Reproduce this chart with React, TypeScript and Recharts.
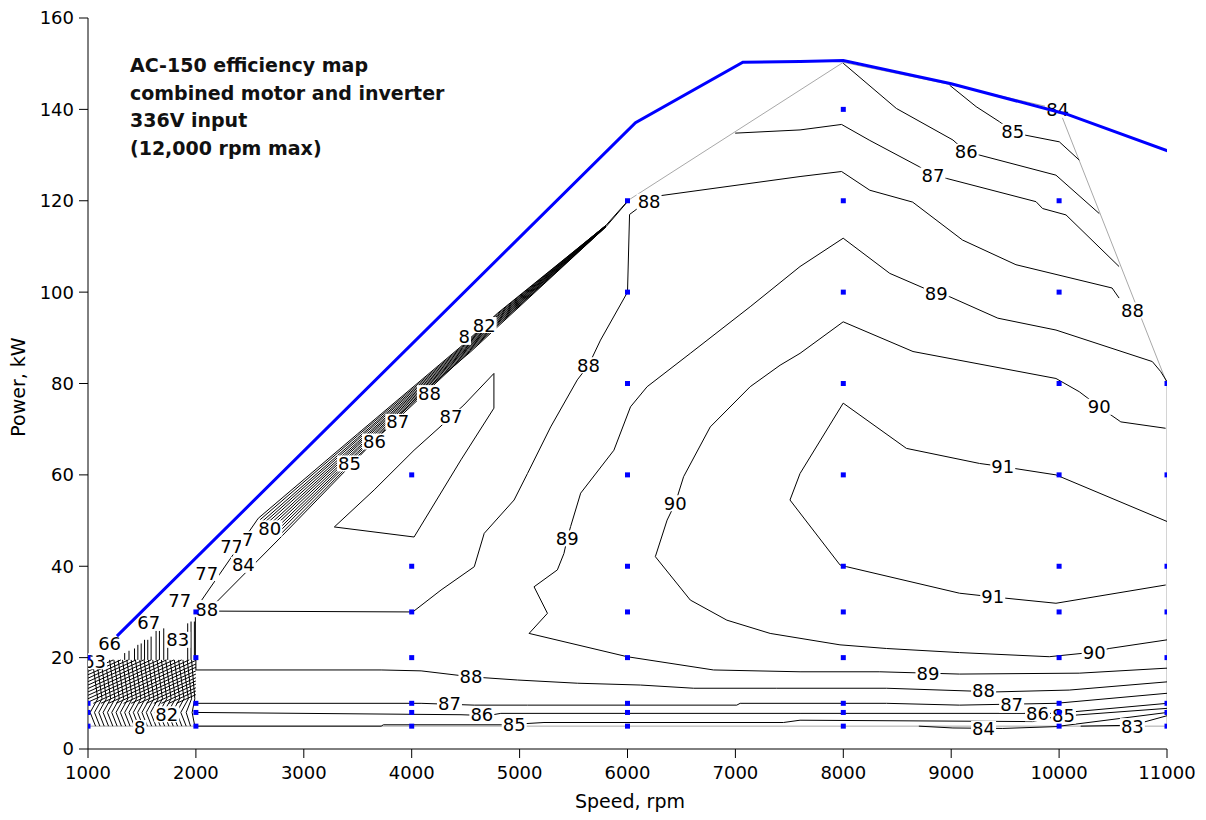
import React from 'react'
import { ScatterChart, Scatter, XAxis, YAxis } from 'recharts'

const speedTicks = [1000, 2000, 3000, 4000, 5000, 6000, 7000, 8000, 9000, 10000, 11000]
const powerTicks = [0, 20, 40, 60, 80, 100, 120, 140, 160]

const titleLines = ['AC-150 efficiency map', 'combined motor and inverter', '336V input', '(12,000 rpm max)']

// max power envelope (blue)
const maxPower = [[1268, 24.7], [6074, 137.1], [7069, 150.3], [7600, 150.5], [8000, 150.7], [9000, 145.6], [10064, 139], [11034, 130.7]]

// edge of the measured region (grey)
const mapBoundary = [[6000, 120], [8000, 150.3], [9000, 145.4], [10000, 140], [11000, 80], [11000, 5], [1000, 5], [1000, 20]]

// efficiency contours, [rpm, kW]
const c88Upper = [[2000, 30.2], [4010, 30], [4272, 34.8], [4580, 39.9], [4672, 47.2], [4949, 54.5], [5073, 60.3], [5288, 70.5], [5535, 80.8], [5639, 84], [5750, 89.5], [6000, 100], [6019, 117], [6240, 120.9], [7599, 125.3], [7984, 126.4], [8246, 122.3], [8643, 119.7], [9105, 111.4], [9600, 106], [10491, 100.9], [10556, 98.7]]
const c87Upper = [[6998, 134.8], [7599, 135.5], [7984, 136.7], [8246, 133.2], [8708, 127.4], [8831, 125.6], [8955, 124.9], [9786, 119.8], [9847, 118.3], [10064, 116.9], [10556, 105.6]]
const c86Upper = [[7999, 150.1], [8492, 140.2], [9016, 133.3], [9139, 130.7], [9262, 130], [9971, 125.6], [10372, 117.2]]
const c85Upper = [[8985, 145.3], [9231, 140.6], [9447, 137.3], [9570, 135.1], [9678, 134.4], [10002, 132.9], [10187, 128.9]]
const c89 = [[11000, 80.4], [10942, 82.6], [10864, 84.8], [9971, 91.7], [9432, 94.3], [8985, 99], [8862, 99.7], [8431, 104.1], [7999, 111.8], [7599, 105.6], [7137, 96.8], [6582, 86.6], [6182, 79.3], [6028, 74.9], [5874, 65.4], [5566, 56], [5473, 48.7], [5442, 46.1], [5411, 42.8], [5350, 39.2], [5134, 35.5], [5258, 29.7], [5088, 25.3], [5997, 20.2], [6797, 17.3], [7599, 16.9], [8338, 16.9], [8785, 16.6], [9077, 16.4], [10187, 16.6], [11003, 17.7]]
const c90 = [[10987, 70.2], [10572, 71.6], [10372, 74.9], [10187, 78.2], [9971, 81.1], [8646, 87], [7999, 93.5], [7599, 86.6], [7414, 84], [7137, 79.3], [6767, 70.5], [6520, 59.6], [6443, 53.8], [6367, 50.1], [6258, 42.1], [6582, 32.6], [6921, 28.2], [7322, 25.3], [7969, 22.8], [8400, 22], [9077, 21.1], [9909, 20.2], [10325, 21.2], [10464, 22], [11003, 23.9]]
const c91 = [[11000, 49.8], [9971, 60], [9478, 61.8], [9262, 62.5], [8585, 65.8], [7999, 75.7], [7599, 60.3], [7506, 54.5], [7969, 40.3], [8031, 39.9], [9077, 34.1], [9385, 33.3], [9971, 31.9], [10988, 35.9]]
const c87Island = [[4762, 82.2], [4762, 74.6], [4457, 63.3], [4022, 46.4], [3283, 48.6], [3652, 56.7], [4022, 65.4], [4253, 70.3], [4484, 75.3], [4762, 82.2]]
const c88Lower = [[2000, 20], [2000, 17.3], [3717, 17.3], [4087, 17.1], [4549, 15.8], [4980, 15.1], [5535, 14.4], [6120, 14], [6613, 13.3], [7383, 13.3], [8400, 13.3], [9416, 12.5], [10094, 12.9], [11003, 14.7]]
const c87Lower = [[2000, 10], [4087, 10], [4580, 9.6], [5073, 9.6], [7013, 9.6], [7044, 10], [8400, 10], [9077, 9.6], [9971, 10], [11003, 12.2]]
const c86Lower = [[2000, 8], [4457, 7.5], [4703, 7.3], [4826, 7.8], [7599, 7.8], [9601, 7.8], [9971, 7.8], [11003, 10]]
const c85Lower = [[2000, 5], [3717, 5], [3738, 5.3], [4872, 5.3], [5226, 5.8], [7445, 5.8], [7599, 6.3], [9755, 6], [9971, 7.1], [11003, 8.9]]
const c84Lower = [[8700, 5], [9016, 4.6], [9478, 4.5], [9971, 4.9], [11003, 8]]
const c83Lower = [[10200, 5], [10679, 5.2], [11003, 7.3]]

// crowded contours along the diagonal edge
const band = [
  [[2054, 32.6], [2578, 50.5], [3500, 69], [4457, 88.1], [4796, 95.4], [5800, 114.6], [6000, 119.9]],
  [[2596, 50.2], [3500, 68.6], [4465, 88], [4796, 95.2], [5800, 114.6]],
  [[2614, 49.8], [3500, 68.1], [4472, 87.9], [4796, 94.9], [5800, 114.6]],
  [[2632, 49.5], [3500, 67.7], [4480, 87.8], [4796, 94.7], [5800, 114.5]],
  [[2650, 49.2], [3500, 67.2], [4488, 87.7], [4796, 94.4], [5800, 114.5]],
  [[2668, 48.8], [3500, 66.8], [4495, 87.6], [4796, 94.2], [5800, 114.5]],
  [[2686, 48.5], [3500, 66.4], [4503, 87.5], [4796, 93.9], [5800, 114.5]],
  [[2704, 48.2], [3500, 65.9], [4511, 87.5], [4796, 93.7], [5800, 114.4]],
  [[2722, 47.8], [3500, 65.5], [4518, 87.4], [4796, 93.4], [5800, 114.4]],
  [[2740, 47.5], [3500, 65], [4526, 87.3], [4796, 93.2], [5800, 114.4]],
  [[2758, 47.2], [3500, 64.6], [4534, 87.2], [4796, 92.9], [5800, 114.3]],
  [[2776, 46.8], [3500, 64.1], [4541, 87.1], [4796, 92.7], [5800, 114.3]],
  [[2100, 30], [2793, 46.5], [3500, 63.7], [4022, 76.4], [4549, 87], [4796, 92.4], [5800, 114.3], [6000, 119.8]],
]

// crowded contours in the low speed corner
const corner = [
  [[1340, 19.5], [1340, 21]], [[1380, 19.5], [1380, 21.5]], [[1431, 19.5], [1431, 22]], [[1462, 19.5], [1462, 22.8]],
  [[1493, 19.5], [1493, 23.1]], [[1524, 19.5], [1524, 23.9]], [[1554, 19.5], [1554, 23.9]], [[1585, 19.5], [1585, 24.6]],
  [[1631, 19.5], [1631, 26]], [[1662, 19.5], [1662, 26]], [[1702, 19.5], [1702, 26.4]], [[1739, 19.5], [1739, 25.3]],
  [[1924, 19.5], [1924, 27.5]], [[1955, 19.5], [1955, 27.9]], [[1986, 19.5], [1986, 27.9]], [[1995, 20], [1995, 29.5]],
  [[1000, 18.5], [1094, 19.5]], [[1000, 17.75], [1164, 19.5]], [[1000, 17], [1235, 19.5]], [[1000, 16.25], [1305, 19.5]],
  [[1000, 15.5], [1375, 19.5]], [[1000, 14.75], [1446, 19.5]], [[1000, 14], [1516, 19.5]], [[1000, 13.25], [1586, 19.5]],
  [[1000, 12.5], [1657, 19.5]], [[1000, 11.75], [1727, 19.5]], [[1000, 11], [1797, 19.5]], [[1000, 10.25], [1868, 19.5]],
  [[1050, 10], [1938, 19.5]], [[1120, 10], [2000, 19.4]], [[1190, 10], [2000, 18.6]], [[1260, 10], [2000, 17.9]],
  [[1330, 10], [2000, 17.1]], [[1400, 10], [2000, 16.4]], [[1470, 10], [2000, 15.6]], [[1540, 10], [2000, 14.9]],
  [[1610, 10], [2000, 14.2]], [[1680, 10], [2000, 13.4]], [[1750, 10], [2000, 12.7]], [[1820, 10], [2000, 11.9]],
  [[1040, 19.5], [1090, 11], [1020, 8], [1070, 5]], [[1080, 19.5], [1130, 11], [1060, 8], [1110, 5]],
  [[1120, 19.5], [1170, 11], [1100, 8], [1150, 5]], [[1160, 19.5], [1210, 11], [1140, 8], [1190, 5]],
  [[1200, 19.5], [1250, 11], [1180, 8], [1230, 5]], [[1240, 19.5], [1290, 11], [1220, 8], [1270, 5]],
  [[1280, 19.5], [1330, 11], [1260, 8], [1310, 5]], [[1320, 19.5], [1370, 11], [1300, 8], [1350, 5]],
  [[1360, 19.5], [1410, 11], [1340, 8], [1390, 5]], [[1400, 19.5], [1450, 11], [1380, 8], [1430, 5]],
  [[1440, 19.5], [1490, 11], [1420, 8], [1470, 5]], [[1480, 19.5], [1530, 11], [1460, 8], [1510, 5]],
  [[1520, 19.5], [1570, 11], [1500, 8], [1550, 5]], [[1560, 19.5], [1610, 11], [1540, 8], [1590, 5]],
  [[1600, 19.5], [1650, 11], [1580, 8], [1630, 5]], [[1640, 19.5], [1690, 11], [1620, 8], [1670, 5]],
  [[1680, 19.5], [1730, 11], [1660, 8], [1710, 5]], [[1720, 19.5], [1770, 11], [1700, 8], [1750, 5]],
  [[1760, 19.5], [1810, 11], [1740, 8], [1790, 5]], [[1800, 19.5], [1850, 11], [1780, 8], [1830, 5]],
  [[1840, 19.5], [1890, 11], [1820, 8], [1870, 5]], [[1880, 19.5], [1930, 11], [1860, 8], [1910, 5]],
  [[1920, 19.5], [1960, 11], [1910, 8], [1950, 5]], [[1960, 19.5], [1990, 11], [1965, 8], [1990, 5]],
]

const contourLabels: [number, number, string][] = [
  [6200, 119.8, '88'], [5639, 84, '88'], [10680, 96, '88'], [8831, 125.6, '87'], [9139, 130.7, '86'],
  [9570, 135.1, '85'], [9986, 139.9, '84'], [8862, 99.7, '89'], [5442, 46.1, '89'], [8785, 16.6, '89'],
  [10372, 74.9, '90'], [6443, 53.8, '90'], [10325, 21.2, '90'], [9478, 61.8, '91'], [9385, 33.3, '91'],
  [4364, 72.7, '87'], [4549, 15.8, '88'], [9300, 12.7, '88'], [4350, 9.9, '87'], [9560, 9.7, '87'],
  [4650, 7.5, '86'], [9800, 7.8, '86'], [4950, 5.4, '85'], [10040, 7.3, '85'], [9300, 4.4, '84'], [10679, 5, '83'],
  [3424, 62.5, '85'], [3655, 67.3, '86'], [3871, 71.6, '87'], [4164, 77.9, '88'], [4487, 90.2, '8'], [4672, 92.8, '82'],
  [2685, 48.3, '80'], [2440, 40.3, '84'], [2331, 44.3, '77'], [2480, 45.9, '7'], [2100, 38.5, '77'], [1850, 32.6, '77'],
  [2100, 30.6, '88'], [1832, 23.9, '83'], [1730, 7.6, '82'], [1480, 4.6, '8'], [1200, 23.1, '66'], [1563, 27.6, '67'],
  [1060, 19.2, '63'],
]

// measured operating points
const dotColumns: [number, number[]][] = [
  [1000, [5, 8, 10, 20]],
  [2000, [5, 8, 10, 20, 30]],
  [4000, [5, 8, 10, 20, 30, 40, 60]],
  [6000, [5, 8, 10, 20, 30, 40, 60, 80, 100, 120]],
  [8000, [5, 8, 10, 20, 30, 40, 60, 80, 100, 120, 140]],
  [10000, [5, 8, 10, 20, 30, 40, 60, 80, 100, 120]],
  [11000, [5, 8, 10, 20, 30, 40, 60, 80]],
]

const contours = [c88Upper, c87Upper, c86Upper, c85Upper, c89, c90, c91, c87Island, c88Lower, c87Lower, c86Lower, c85Lower, c84Lower, c83Lower]

const pts = (arr: number[][]) => arr.map(([x, y]) => ({ x, y }))
const labelData = contourLabels.map(([x, y, t]) => ({ x, y, t }))
const dotData = dotColumns.flatMap(([x, ys]) => ys.map((y) => ({ x, y })))

const FONT = '"DejaVu Sans", Verdana, sans-serif'

const NoShape = () => <g />

function LabelShape(props: any) {
  const { cx, cy, payload } = props
  const w = payload.t.length * 11.5 + 2
  return (
    <g>
      <rect x={cx - w / 2} y={cy - 8} width={w} height={16} fill="#fff" />
      <text x={cx} y={cy} dy="0.36em" textAnchor="middle" fontSize={18} fill="#000" fontFamily={FONT}>
        {payload.t}
      </text>
    </g>
  )
}

function DotShape(props: any) {
  const { cx, cy } = props
  return <rect x={cx - 2.5} y={cy - 2.5} width={5} height={5} fill="#0000ff" />
}

export default function App() {
  return (
    <div style={{ position: 'relative', width: 1198, height: 812, fontFamily: FONT, background: '#fff' }}>
      <ScatterChart width={1198} height={812} margin={{ top: 10, right: 39, bottom: 31, left: 20 }}>
        <XAxis
          type="number"
          dataKey="x"
          domain={[1000, 11000]}
          ticks={speedTicks}
          interval={0}
          allowDataOverflow
          height={40}
          tickSize={9}
          tickMargin={8}
          axisLine={{ stroke: '#000' }}
          tickLine={{ stroke: '#000' }}
          tick={{ fill: '#000', fontSize: 18, fontFamily: FONT }}
        />
        <YAxis
          type="number"
          dataKey="y"
          domain={[0, 160]}
          ticks={powerTicks}
          interval={0}
          allowDataOverflow
          width={60}
          tickSize={9}
          tickMargin={5}
          axisLine={{ stroke: '#000' }}
          tickLine={{ stroke: '#000' }}
          tick={{ fill: '#000', fontSize: 18, fontFamily: FONT }}
        />
        <Scatter data={pts(mapBoundary)} shape={NoShape} line={{ stroke: '#a8a8a8', strokeWidth: 1 }} isAnimationActive={false} />
        {corner.map((c, i) => (
          <Scatter key={'k' + i} data={pts(c)} shape={NoShape} line={{ stroke: '#000', strokeWidth: 1 }} isAnimationActive={false} />
        ))}
        {band.map((b, i) => (
          <Scatter key={'b' + i} data={pts(b)} shape={NoShape} line={{ stroke: '#000', strokeWidth: 1 }} isAnimationActive={false} />
        ))}
        {contours.map((c, i) => (
          <Scatter key={'c' + i} data={pts(c)} shape={NoShape} line={{ stroke: '#000', strokeWidth: 1 }} isAnimationActive={false} />
        ))}
        <Scatter data={labelData} shape={LabelShape} isAnimationActive={false} />
        <Scatter data={pts(maxPower)} shape={NoShape} line={{ stroke: '#0000ff', strokeWidth: 3 }} isAnimationActive={false} />
        <Scatter data={dotData} shape={DotShape} isAnimationActive={false} />
      </ScatterChart>

      <svg width={1198} height={812} style={{ position: 'absolute', left: 0, top: 0, pointerEvents: 'none' }}>
        {titleLines.map((t, i) => (
          <text key={t} x={122} y={64 + i * 27.5} fontSize={19} fontWeight="bold" fill="#111" fontFamily={FONT}>
            {t}
          </text>
        ))}
        <text x={622} y={800} textAnchor="middle" fontSize={19} fill="#000" fontFamily={FONT}>
          Speed, rpm
        </text>
        <text x={17} y={379} textAnchor="middle" fontSize={19} fill="#000" fontFamily={FONT} transform="rotate(-90 17 379)">
          Power, kW
        </text>
      </svg>
    </div>
  )
}
